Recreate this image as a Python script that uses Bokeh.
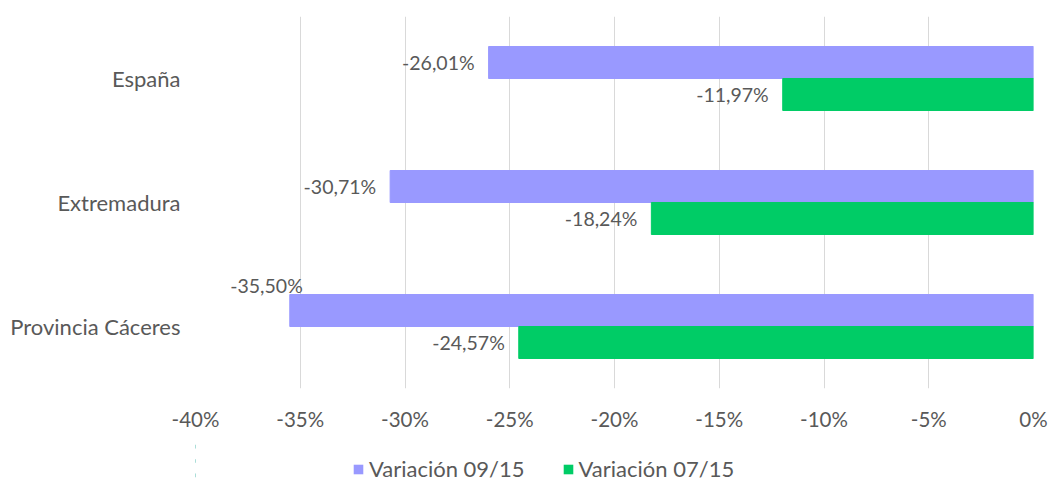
from bokeh.plotting import figure
from bokeh.layouts import column
from bokeh.models import (ColumnDataSource, FactorRange, Range1d, NumeralTickFormatter,
                          SingleIntervalTicker, Legend, LegendItem)
from bokeh.transform import dodge
from bokeh.embed import file_html
from bokeh.resources import INLINE
from bokeh.core.properties import value

# ---- data ----
categories = ["España", "Extremadura", "Provincia Cáceres"]
var_09_15 = [-0.2601, -0.3071, -0.3550]
var_07_15 = [-0.1197, -0.1824, -0.2457]
series_names = ["Variación 09/15", "Variación 07/15"]

PURPLE = "#9999FF"
GREEN = "#00CC66"
TXT = "#595959"
FONT = "Lato"

def fmt(v):
    return ("%.2f" % (v * 100)).replace(".", ",") + "%"

p = figure(width=1050, height=439, output_backend="svg", toolbar_location=None,
           y_range=FactorRange(*categories[::-1]), x_range=Range1d(-0.40, 0.0),
           min_border_left=195, min_border_right=17, min_border_top=16, min_border_bottom=51)
p.y_range.range_padding = 0
p.outline_line_color = None
p.background_fill_color = "white"
p.border_fill_color = "white"

BH = 0.258
src1 = ColumnDataSource(dict(cat=categories, v=var_09_15, lab=[fmt(v) for v in var_09_15]))
src2 = ColumnDataSource(dict(cat=categories, v=var_07_15, lab=[fmt(v) for v in var_07_15]))

p.hbar(y=dodge("cat", BH / 2, range=p.y_range), left=0, right="v", height=BH,
       source=src1, fill_color=PURPLE, line_color=PURPLE)
p.hbar(y=dodge("cat", -BH / 2, range=p.y_range), left=0, right="v", height=BH,
       source=src2, fill_color=GREEN, line_color=GREEN)

# labels: default outside-end to the left of the bar; the longest bar's label is lifted above it
def offsets(vals):
    xo, yo = [], []
    for v in vals:
        if v <= min(var_09_15 + var_07_15):
            xo.append(13); yo.append(-25)
        else:
            xo.append(-14); yo.append(0)
    return xo, yo

for src, vals, d in ((src1, var_09_15, BH / 2), (src2, var_07_15, -BH / 2)):
    xo, yo = offsets(vals)
    src.data["xo"] = xo
    src.data["yo"] = yo
    p.text(x="v", y=dodge("cat", d, range=p.y_range), text="lab", source=src,
           x_offset="xo", y_offset="yo", text_align="right", text_baseline="middle",
           text_font=value(FONT), text_font_size="19.5px", text_color=TXT)

# axes
p.xaxis.ticker = SingleIntervalTicker(interval=0.05)
p.xaxis.formatter = NumeralTickFormatter(format="0%")
for ax in (p.xaxis[0], p.yaxis[0]):
    ax.axis_line_color = None
    ax.major_tick_line_color = None
    ax.minor_tick_line_color = None
    ax.major_tick_out = 0
    ax.major_tick_in = 0
    ax.major_label_text_font = FONT
    ax.major_label_text_color = TXT
p.xaxis.major_label_text_font_size = "20.5px"
p.yaxis.major_label_text_font_size = "22px"
p.xaxis.major_label_standoff = 14
p.yaxis.major_label_standoff = 15

p.ygrid.grid_line_color = None
p.xgrid.grid_line_color = "#D9D9D9"
p.xgrid.ticker = SingleIntervalTicker(interval=0.05)

# ---- legend strip below the chart (proxy bars fall outside its visible range) ----
lg = figure(width=1050, height=43, output_backend="svg", toolbar_location=None,
            x_range=Range1d(1, 2), y_range=FactorRange(*categories),
            x_axis_location=None, y_axis_location=None,
            min_border_left=0, min_border_right=0, min_border_top=0, min_border_bottom=0)
lg.outline_line_color = None
lg.xgrid.grid_line_color = None
lg.ygrid.grid_line_color = None
q1 = lg.hbar(y="cat", left=0, right="v", height=BH, source=src1,
             fill_color=PURPLE, line_color=None)
q2 = lg.hbar(y="cat", left=0, right="v", height=BH, source=src2,
             fill_color=GREEN, line_color=None)
legend = Legend(items=[LegendItem(label=series_names[0], renderers=[q1]),
                       LegendItem(label=series_names[1], renderers=[q2])],
                orientation="horizontal", location=(157, 0),
                label_text_font=FONT, label_text_font_size="22px", label_text_color=TXT,
                glyph_width=12, glyph_height=12, label_standoff=5, spacing=37,
                border_line_color=None, background_fill_alpha=0, padding=0, margin=0)
lg.add_layout(legend, "center")

layout = column(p, lg, spacing=0)
open("out.html", "w").write(file_html(layout, INLINE))
